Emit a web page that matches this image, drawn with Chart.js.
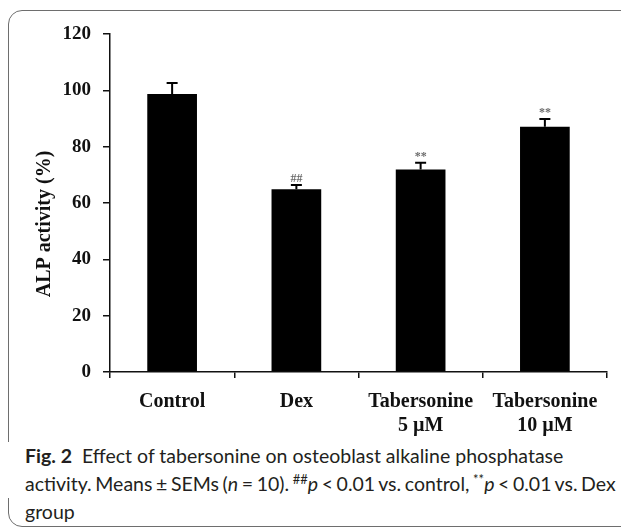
<!DOCTYPE html>
<html>
<head>
<meta charset="utf-8">
<script src="https://cdn.jsdelivr.net/npm/chart.js@4/dist/chart.umd.min.js"></script>
<style>
  body { margin: 0; background: #fff; width: 621px; height: 528px; overflow: hidden; position: relative; }
  #marco { position: absolute; left: 8px; top: 10px; width: 700px; height: 515px; border: 1.5px solid #6e6e6e; border-radius: 14px; }
  #grafico { position: absolute; left: 0; top: 0; }
  #leyenda { position: absolute; left: 0; top: 442px; width: 621px; font-family: Lato, "Open Sans", sans-serif; font-size: 19.5px; line-height: 28px; color: #231f20; white-space: nowrap; }
  #leyenda .tapa { background: #fff; padding-left: 25px; }
  #leyenda .resto { padding-left: 25px; }
  #leyenda .linea2 { word-spacing: -1.4px; }
  #leyenda b { font-weight: 700; }
  sup { font-size: 13px; line-height: 0; }
</style>
</head>
<body>
<div id="marco"></div>
<canvas id="grafico" width="621" height="440"></canvas>
<div id="leyenda">
  <div class="tapa">
    <div><b>Fig. 2</b>&nbsp; Effect of tabersonine on osteoblast alkaline phosphatase</div>
    <div class="linea2">activity. Means ± SEMs (<i>n</i> = 10). <sup>##</sup><i>p</i> &lt; 0.01 vs. control, <sup>**</sup><i>p</i> &lt; 0.01 vs. Dex</div>
  </div>
  <div class="resto">group</div>
</div>
<script>
const categorias = [["Control"], ["Dex"], ["Tabersonine", "5 µM"], ["Tabersonine", "10 µM"]];
const valores = [98.7, 64.9, 71.9, 87.1];
const errores = [3.9, 1.5, 2.4, 2.7];
const marcas = ["", "##", "**", "**"];
const tituloY = "ALP activity (%)";
const minY = 0;
const maxY = 120;
const pasoY = 20;

const serif = "'Liberation Serif', 'Times New Roman', serif";

// barras de error (solo hacia arriba) y las marcas de significancia
const errorBars = {
    id: "errorBars",
    afterDatasetsDraw(chart) {
        const ctx = chart.ctx;
        const y = chart.scales.y;
        const barras = chart.getDatasetMeta(0).data;
        ctx.save();
        ctx.strokeStyle = "#000";
        ctx.lineWidth = 2;
        barras.forEach((barra, i) => {
            const arriba = y.getPixelForValue(valores[i] + errores[i]);
            ctx.beginPath();
            ctx.moveTo(barra.x, barra.y);
            ctx.lineTo(barra.x, arriba);
            ctx.moveTo(barra.x - 5.5, arriba);
            ctx.lineTo(barra.x + 5.5, arriba);
            ctx.stroke();
            if (marcas[i]) {
                ctx.fillStyle = "#6a6a6a";
                ctx.font = "bold 12px " + serif;
                ctx.textAlign = "center";
                ctx.textBaseline = "alphabetic";
                ctx.fillText(marcas[i], barra.x, arriba - 3);
            }
        });
        ctx.restore();
    }
};

// titulo del eje y, algo mas abajo que el centro como en la figura
const tituloEjeY = {
    id: "tituloEjeY",
    afterDraw(chart) {
        const ctx = chart.ctx;
        ctx.save();
        ctx.translate(45, 224);
        ctx.rotate(-Math.PI / 2);
        ctx.fillStyle = "#111";
        ctx.font = "bold 20px " + serif;
        ctx.textAlign = "center";
        ctx.textBaseline = "middle";
        ctx.fillText(tituloY, 0, 0);
        ctx.restore();
    }
};

const config = {
    type: "bar",
    data: {
        labels: categorias,
        datasets: [{
            data: valores,
            backgroundColor: "#000",
            borderWidth: 0,
            barPercentage: 0.4,
            categoryPercentage: 1
        }]
    },
    options: {
        responsive: false,
        animation: false,
        devicePixelRatio: 1,
        layout: { padding: { left: 0, right: 14, top: 34, bottom: 0 } },
        plugins: { legend: { display: false }, tooltip: { enabled: false } },
        scales: {
            x: {
                afterFit: (scale) => { scale.height = 68; },
                grid: { offset: true, drawOnChartArea: false, drawTicks: true, tickLength: 6, color: "#111", lineWidth: 1.5 },
                border: { color: "#111", width: 1.5 },
                ticks: { color: "#111", padding: 12, maxRotation: 0, font: { family: serif, size: 20, weight: "bold", lineHeight: 1.2 } }
            },
            y: {
                min: minY,
                max: maxY,
                afterFit: (scale) => { scale.width = 110; },
                grid: { drawOnChartArea: false, drawTicks: true, tickLength: 7, color: "#111", lineWidth: 1.5 },
                border: { color: "#111", width: 1.5 },
                ticks: { stepSize: pasoY, color: "#111", padding: 12, font: { family: serif, size: 19, weight: "bold" } }
            }
        }
    },
    plugins: [errorBars, tituloEjeY]
};

new Chart(document.getElementById("grafico"), config);
</script>
</body>
</html>
